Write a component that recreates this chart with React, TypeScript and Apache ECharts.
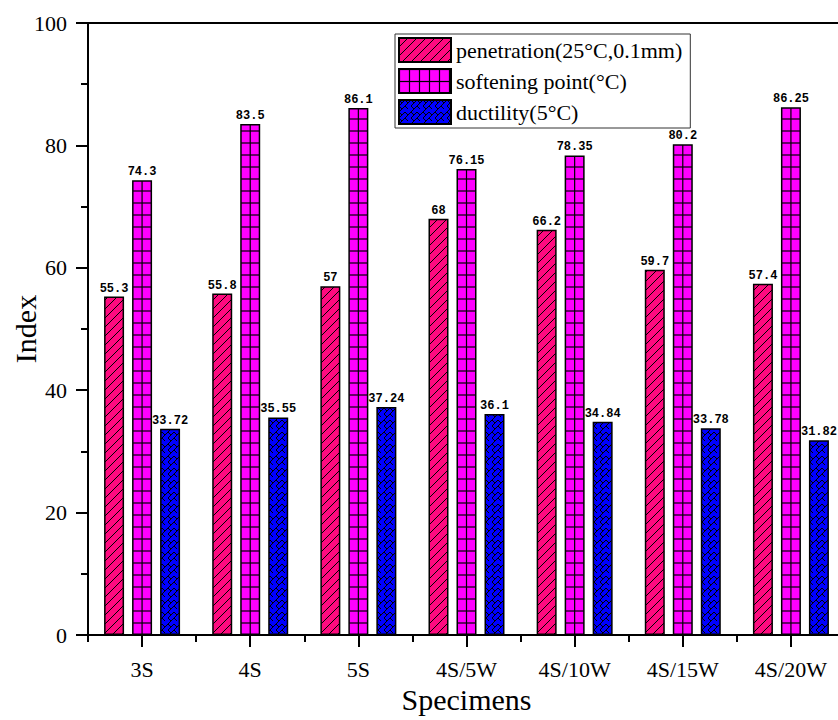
import React, { useEffect, useRef } from 'react';
import * as echarts from 'echarts';

const categories = ['3S', '4S', '5S', '4S/5W', '4S/10W', '4S/15W', '4S/20W'];
const penetration = [55.3, 55.8, 57, 68, 66.2, 59.7, 57.4];
const softening = [74.3, 83.5, 86.1, 76.15, 78.35, 80.2, 86.25];
const ductility = [33.72, 35.55, 37.24, 36.1, 34.84, 33.78, 31.82];
const seriesNames = ['penetration(25°C,0.1mm)', 'softening point(°C)', 'ductility(5°C)'];
const yMin = 0;
const yMax = 100;
const yInterval = 20;

const W = 838;
const H = 720;
const GRID_LEFT = 88;
const GRID_RIGHT = -7;
const GRID_TOP = 23;
const GRID_BOTTOM = 85;

function makeTile(w: number, h: number, bg: string, draw: (ctx: CanvasRenderingContext2D) => void) {
  const c = document.createElement('canvas');
  c.width = w;
  c.height = h;
  const ctx = c.getContext('2d')!;
  ctx.fillStyle = bg;
  ctx.fillRect(0, 0, w, h);
  ctx.strokeStyle = '#000';
  ctx.lineWidth = 1;
  for (const dx of [-w, 0, w]) {
    for (const dy of [-h, 0, h]) {
      ctx.save();
      ctx.translate(dx, dy);
      draw(ctx);
      ctx.restore();
    }
  }
  return c;
}

function line(ctx: CanvasRenderingContext2D, x1: number, y1: number, x2: number, y2: number) {
  ctx.beginPath();
  ctx.moveTo(x1, y1);
  ctx.lineTo(x2, y2);
  ctx.stroke();
}

export default function App() {
  const ref = useRef<HTMLDivElement>(null);
  useEffect(() => {
    document.body.style.margin = '0';
    if (!ref.current) return;
    const chart = echarts.init(ref.current, undefined, { renderer: 'svg' });

    const penTile = makeTile(9, 9, '#FF0A7F', (ctx) => {
      line(ctx, 0, 9, 9, 0);
    });
    const softTileAt = (px: number, py: number) =>
      makeTile(10, 12, '#FF00FF', (ctx) => {
        ctx.lineWidth = 1.2;
        line(ctx, px, 0, px, 12);
        line(ctx, 0, py, 10, py);
      });
    const ducTile = makeTile(12, 12, '#0000FF', (ctx) => {
      line(ctx, 0, 6, 6, 0);
      line(ctx, 0, 12, 12, 0);
      line(ctx, 0, 0, 3, 3);
      line(ctx, 6, 0, 9, 3);
      line(ctx, 6, 6, 9, 9);
      line(ctx, 0, 6, 3, 9);
    });

    const pat = (img: HTMLCanvasElement, w: number, h: number) => ({
      image: img,
      repeat: 'repeat',
      imageWidth: w,
      imageHeight: h,
    });

    const band = (W - GRID_LEFT - GRID_RIGHT) / categories.length;
    const bottomY = H - GRID_BOTTOM;
    const mod = (a: number, m: number) => ((a % m) + m) % m;

    const labelStyle = {
      show: true,
      position: 'top',
      distance: 2,
      color: '#000',
      fontFamily: 'Liberation Mono',
      fontSize: 12,
      fontWeight: 'bold',
    };

    const tickFont = { fontFamily: 'Liberation Serif', fontSize: 22, color: '#000' };

    chart.setOption({
      animation: false,
      backgroundColor: '#fff',
      grid: {
        left: GRID_LEFT,
        right: GRID_RIGHT,
        top: GRID_TOP,
        bottom: GRID_BOTTOM,
        containLabel: false,
        outerBoundsMode: 'none',
      },
      legend: {
        left: 395,
        top: 34,
        orient: 'vertical',
        itemWidth: 52,
        itemHeight: 24,
        itemGap: 5,
        padding: [3, 8, 3, 3],
        borderColor: '#333',
        borderWidth: 1,
        backgroundColor: '#fff',
        textStyle: { fontFamily: 'Liberation Serif', fontSize: 22, color: '#000', padding: [0, 0, 0, 0] },
        data: seriesNames.map((n) => ({ name: n, icon: 'rect' })),
      },
      xAxis: [
        {
          type: 'category',
          position: 'bottom',
          data: categories,
          axisLine: { show: true, lineStyle: { color: '#000', width: 2 } },
          axisTick: { show: true, alignWithLabel: true, length: 12, lineStyle: { color: '#000', width: 2 } },
          axisLabel: { ...tickFont, margin: 23 },
          name: 'Specimens',
          nameLocation: 'middle',
          nameGap: 47,
          nameTextStyle: { fontFamily: 'Liberation Serif', fontSize: 30, color: '#000' },
        },
        {
          type: 'category',
          position: 'bottom',
          data: categories,
          axisLine: { show: false },
          axisTick: { show: true, alignWithLabel: false, length: 7, lineStyle: { color: '#000', width: 2 } },
          axisLabel: { show: false },
        },
        {
          type: 'category',
          position: 'top',
          data: categories,
          axisLine: { show: true, lineStyle: { color: '#000', width: 2 } },
          axisTick: { show: false },
          axisLabel: { show: false },
        },
      ],
      yAxis: {
        type: 'value',
        min: yMin,
        max: yMax,
        interval: yInterval,
        axisLine: { show: true, lineStyle: { color: '#000', width: 2 } },
        axisTick: { show: true, length: 12, lineStyle: { color: '#000', width: 2 } },
        minorTick: { show: true, splitNumber: 2, length: 7, lineStyle: { color: '#000', width: 2 } },
        splitLine: { show: false },
        axisLabel: { ...tickFont, margin: 21 },
        name: 'Index',
        nameLocation: 'middle',
        nameGap: 48,
        nameMoveOverlap: false,
        nameTextStyle: { fontFamily: 'Liberation Serif', fontSize: 30, color: '#000' },
      },
      series: [
        {
          name: seriesNames[0],
          type: 'bar',
          barWidth: 20,
          barGap: '40%',
          data: penetration,
          itemStyle: { color: pat(penTile, 9, 9), borderColor: '#000', borderWidth: 1.5 },
          label: labelStyle,
        },
        {
          name: seriesNames[1],
          type: 'bar',
          barWidth: 20,
          barGap: '40%',
          data: softening.map((v, i) => ({
            value: v,
            itemStyle: {
              color: pat(
                softTileAt(mod(GRID_LEFT + (i + 0.5) * band, 10), mod(bottomY, 12)),
                10,
                12
              ),
            },
          })),
          itemStyle: { color: pat(softTileAt(0.5, 0.5), 10, 12), borderColor: '#000', borderWidth: 1.5 },
          label: labelStyle,
        },
        {
          name: seriesNames[2],
          type: 'bar',
          barWidth: 20,
          barGap: '40%',
          data: ductility,
          itemStyle: { color: pat(ducTile, 12, 12), borderColor: '#000', borderWidth: 1.5 },
          label: labelStyle,
        },
      ],
    } as any);

    return () => chart.dispose();
  }, []);
  return <div ref={ref} style={{ width: W, height: H }} />;
}
